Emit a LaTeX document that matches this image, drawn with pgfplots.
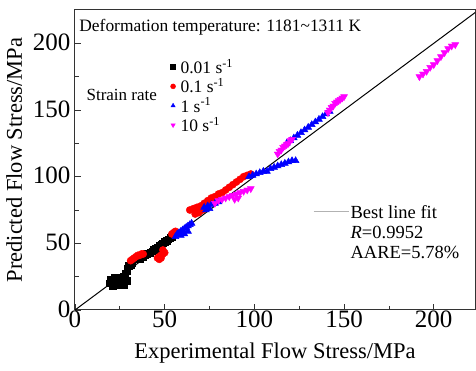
\documentclass[border=0pt]{standalone}
\usepackage{pgfplots}
\pgfplotsset{compat=1.18}
\usepackage{fontspec}
\setmainfont{Liberation Serif}
\usetikzlibrary{plotmarks,calc}
\definecolor{mred}{RGB}{255,0,0}
\definecolor{mblue}{RGB}{0,0,255}
\definecolor{mmag}{RGB}{255,0,255}
\begin{document}
\begin{tikzpicture}
\begin{axis}[
  scale only axis, width=400pt, height=300pt,
  xmin=0, xmax=223, ymin=0, ymax=225,
  xtick={0,50,100,150,200}, ytick={0,50,100,150,200},
  minor xtick={25,75,125,175}, minor ytick={25,75,125,175},
  xtick pos=bottom, ytick pos=left,
  tick align=inside,
  major tick length=6pt, minor tick length=4pt,
  axis line style={line width=1pt, black!80},
  every tick/.style={black!80, line width=0.8pt},
  /pgf/number format/assume math mode=true,
  tick label style={font=\fontsize{25}{27}\selectfont},
  xticklabel style={inner sep=1pt},
  yticklabel style={xshift=-1pt, yshift=1pt},
  label style={font=\fontsize{22.5}{24}\selectfont},
  xlabel={Experimental Flow Stress/MPa},
  ylabel={Predicted Flow Stress/MPa},
  xlabel style={yshift=-10pt},
  ylabel style={yshift=4pt},
  clip=true,
  legend style={draw=none, fill=none, at={(0.236,0.847)}, anchor=north west,
    font=\fontsize{17.5}{17.5}\selectfont, row sep=-0.5pt, column sep=3pt, inner sep=1pt},
  legend cell align=left,
  legend image post style={mark size=2.5pt},
]
\addplot[only marks, mark=square*, mark size=3.3pt, color=black] coordinates {
(19,20)(20,21)(21,20)(22,22)(23,21)(24,22)(25,21)(26,22)(27,21)(28,23)
(21,18)(23,19)(25,19)(27,19)(29,22)(20,23)(22,24)(24,24)(26,24)
(27,25)(28,27)(29,29)(29,31)(30,33)(31,34)(32,35)
(36,38)(38,40)(39,41)(40,42)(42,43)(43,44)(44,45)(45,46)(46,47)(47,48)(48,49)(49,50)(50,51)(51,52)(52,53)(53,54)(54,55)
};
\addlegendentry{0.01 s\textsuperscript{-1}}
\addplot[only marks, mark=*, mark size=3.6pt, color=mred] coordinates {
(31,37)(32,38)(33,39)(34,40)(35,41)(36,41)(37,42)(38,42)
(46,39)(47,40)(48,41)(49,42)(50,43)(49,45)(48,39)(47,38)
(54,57)(55,58)(56,59)
(64,75)(66,76)(68,77)(70,78)(72,80)(74,82)(76,84)(78,85)(80,87)(82,88)(84,90)(86,92)(88,94)(90,96)(92,98)(94,100)(96,101)(98,102)
(67,72)(69,73)(71,75)
};
\addlegendentry{0.1 s\textsuperscript{-1}}
\addplot[only marks, mark=triangle*, mark size=4pt, color=mblue] coordinates {
(56,55)(57,57)(58,58)(59,59)(60,60)(61,61)(62,62)(63,63)(64,64)(65,65)(59,56)(61,57)(63,59)
(72,77)(74,78)(76,79)(78,80)(80,81)(73,75)(75,76)
(97,100)(99,101)(101,102)(103,103)(105,104)(107,104)(109,106)(111,107)(113,108)(115,109)(117,110)(119,111)(121,112)(123,112)
(118,125)(120,127)(122,129)(124,131)(126,133)(128,135)(130,137)(132,139)(134,141)(136,143)(138,145)(140,147)(142,149)
};
\addlegendentry{1 s\textsuperscript{-1}}
\addplot[only marks, mark=triangle*, mark options={rotate=180}, mark size=4pt, color=mmag] coordinates {
(78,80)(80,82)(82,83)(84,84)(86,85)(88,86)(90,87)(92,88)(94,89)(96,90)(98,91)(89,83)(91,84)
(113,117)(114,119)(115,120)(116,122)(117,123)(118,124)(119,125)(120,127)(121,128)
(141,148)(142,150)(143,152)(144,153)(145,155)(146,156)(147,157)(148,158)(149,159)(150,160)
(192,175)(194,177)(196,179)(198,182)(200,184)(202,187)(204,190)(206,193)(208,196)(210,198)(212,199)
};
\addlegendentry{10 s\textsuperscript{-1}}
\addplot[black, line width=1pt, no marks, forget plot] coordinates {(0,0)(230,230)};
\node[anchor=west, font=\fontsize{17.4}{19}\selectfont] at (axis cs:0.5,212) {Deformation temperature: 1181\textasciitilde 1311 K};
\node[anchor=west, font=\fontsize{17}{18}\selectfont] at (axis cs:4.5,161) {Strain rate};
\draw[gray!60, line width=1pt] (axis cs:133,73.5) -- (axis cs:153,73.5);
\node[anchor=west, align=left, inner sep=1pt, font=\fontsize{18.5}{20}\selectfont] at (axis cs:153,58.5) {Best line fit\\\textit{R}=0.9952\\AARE=5.78\%};
\end{axis}
\pgfresetboundingbox
\path ($(current axis.south west)+(-75pt,-61pt)$) rectangle ($(current axis.north east)+(1pt,10pt)$);
\end{tikzpicture}
\end{document}
